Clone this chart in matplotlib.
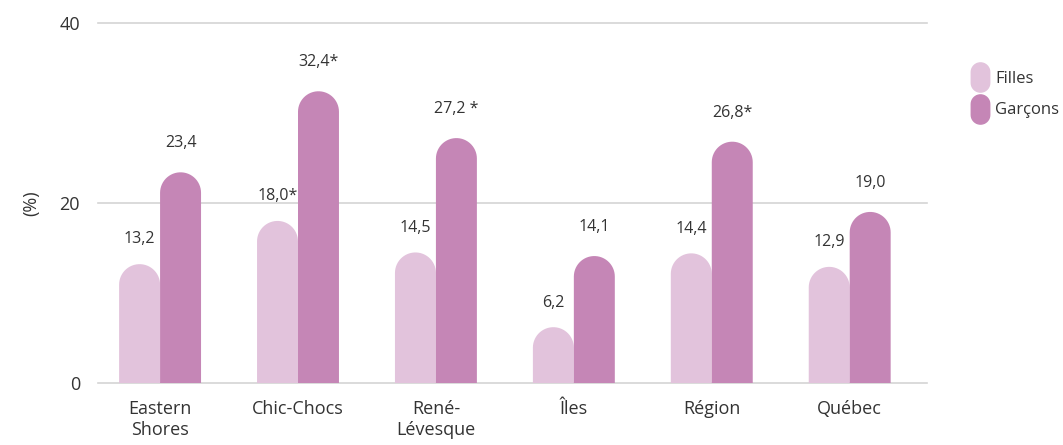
import numpy as np
import matplotlib
matplotlib.use("Agg")
import matplotlib.pyplot as plt
from matplotlib.path import Path
from matplotlib.patches import PathPatch
from matplotlib.lines import Line2D

plt.rcParams['font.family'] = ['Open Sans', 'DejaVu Sans']

regions = ["Eastern\nShores", "Chic-Chocs", "René-\nLévesque", "Îles", "Région", "Québec"]
filles = [13.2, 18.0, 14.5, 6.2, 14.4, 12.9]
garcons = [23.4, 32.4, 27.2, 14.1, 26.8, 19.0]
filles_lbl = ["13,2", "18,0*", "14,5", "6,2", "14,4", "12,9"]
garcons_lbl = ["23,4", "32,4*", "27,2 *", "14,1", "26,8*", "19,0"]

c_filles = "#e2c3dc"
c_garcons = "#c586b6"
txt = "#333333"

fig = plt.figure(figsize=(10.63, 4.45), dpi=100)
ax = fig.add_axes([0.0922, 0.1393, 0.7798, 0.8094])
ax.set_xlim(-0.45, 5.56)
ax.set_ylim(0, 40)

# pixels per data unit, used to keep the rounded tops circular
bb = ax.get_position()
px_x = bb.width * fig.get_figwidth() * fig.dpi / (5.56 + 0.45)
px_y = bb.height * fig.get_figheight() * fig.dpi / 40.0

w = 0.297


def round_bar(x0, h, width, color):
    rx = width / 2
    ry = rx * px_x / px_y
    ry = min(ry, h)
    t = np.linspace(np.pi, 0, 30)
    xs = x0 + rx + rx * np.cos(t)
    ys = h - ry + ry * np.sin(t)
    verts = [(x0, 0)] + list(zip(xs, ys)) + [(x0 + width, 0), (x0, 0)]
    codes = [Path.MOVETO] + [Path.LINETO] * (len(verts) - 2) + [Path.CLOSEPOLY]
    ax.add_patch(PathPatch(Path(verts, codes), facecolor=color, edgecolor='none', zorder=3))


x = np.arange(len(regions))
for i in range(len(regions)):
    round_bar(x[i] - w, filles[i], w, c_filles)
    round_bar(x[i], garcons[i], w, c_garcons)
    ax.annotate(filles_lbl[i], (x[i] - w / 2, filles[i]), xytext=(0, 12), textcoords='offset points',
                ha='center', va='bottom', fontsize=11.5, color=txt)
    ax.annotate(garcons_lbl[i], (x[i] + w / 2, garcons[i]), xytext=(0, 15), textcoords='offset points',
                ha='center', va='bottom', fontsize=11.5, color=txt)

ax.set_yticks([0, 20, 40])
ax.set_xticks(x)
ax.set_xticklabels(regions, fontsize=13, color=txt, linespacing=1.25)
ax.tick_params(axis='both', length=0, labelsize=13, colors=txt)
ax.tick_params(axis='x', pad=12)
ax.tick_params(axis='y', pad=13)
ax.grid(axis='y', color='#d4d4d4', linewidth=1.2, zorder=0)
for gl in ax.get_ygridlines():
    gl.set_clip_on(False)
for s in ax.spines.values():
    s.set_visible(False)
ax.set_ylabel("(%)", fontsize=13, color=txt, labelpad=14)

# capsule-shaped legend markers
t = np.linspace(0, np.pi, 20)
top = [(0.6 * np.cos(a), 0.35 + 0.6 * np.sin(a)) for a in t]
bot = [(-0.6 * np.cos(a), -0.35 - 0.6 * np.sin(a)) for a in t]
capsule = Path(top + bot + [top[0]], [Path.MOVETO] + [Path.LINETO] * (len(top) + len(bot) - 1) + [Path.CLOSEPOLY])
handles = [Line2D([], [], linestyle='none', marker=capsule, markersize=21, color=c_filles, label="Filles"),
           Line2D([], [], linestyle='none', marker=capsule, markersize=21, color=c_garcons, label="Garçons")]
fig.legend(handles=handles, loc='upper left', bbox_to_anchor=(0.902, 0.875), frameon=False,
           fontsize=12, handlelength=0.8, handletextpad=0.5, labelspacing=0.95, labelcolor=txt)

fig.savefig("out.png", dpi=100)
